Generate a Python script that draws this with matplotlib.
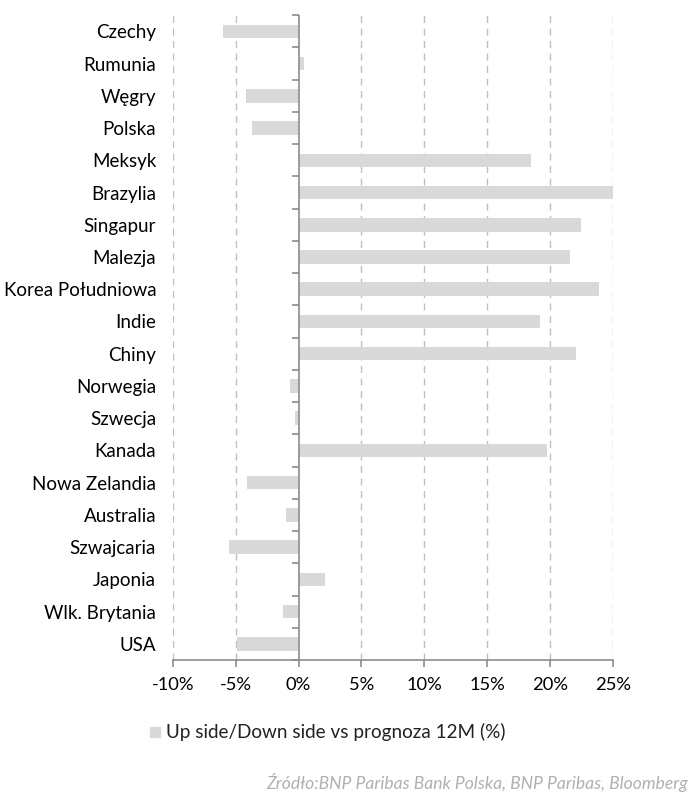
import matplotlib.pyplot as plt
import matplotlib.transforms as mtransforms
import numpy as np

countries = ["Czechy", "Rumunia", "Węgry", "Polska", "Meksyk", "Brazylia",
             "Singapur", "Malezja", "Korea Południowa", "Indie", "Chiny",
             "Norwegia", "Szwecja", "Kanada", "Nowa Zelandia", "Australia",
             "Szwajcaria", "Japonia", "Wlk. Brytania", "USA"]
values = [-6.0, 0.45, -4.2, -3.7, 18.5, 25.1, 22.5, 21.6, 23.9, 19.2, 22.1,
          -0.65, -0.25, 19.8, -4.1, -1.0, -5.5, 2.1, -1.2, -4.9]
xticks = [-10, -5, 0, 5, 10, 15, 20, 25]

plt.rcParams['font.family'] = ['Lato', 'DejaVu Sans']

fig = plt.figure(figsize=(6.94, 8), dpi=100)
ax = fig.add_axes([0.249, 0.175, 0.634, 0.806])

bar_color = '#d9d9d9'
axis_color = '#8c8c8c'
pos = np.arange(len(countries))
ax.barh(pos, values, height=0.42, color=bar_color, zorder=2)

ax.set_xlim(-10, 25)
ax.set_ylim(len(countries) - 0.5, -0.5)

for x in xticks:
    if x != 0:
        ax.axvline(x, color='#bfbfbf', lw=1, ls=(0, (5, 4)), zorder=1)
ax.axvline(0, color=axis_color, lw=1.2, zorder=3)

for s in ['left', 'right', 'top']:
    ax.spines[s].set_visible(False)
ax.spines['bottom'].set_color(axis_color)
ax.spines['bottom'].set_linewidth(1.2)

ax.set_xticks(xticks)
ax.set_xticklabels([f"{x}%" for x in xticks], fontsize=13.2)
ax.tick_params(axis='x', length=5, color=axis_color, width=1.2, pad=7)

ax.set_yticks(pos)
ax.set_yticklabels(countries, fontsize=13.5)
ax.tick_params(axis='y', length=0, pad=12)
ax.set_yticks(np.arange(len(countries) + 1) - 0.5, minor=True)
ax.tick_params(axis='y', which='minor', length=5, color=axis_color, width=1.2)

# minor y ticks sit on the zero line, not on the left edge
shift = mtransforms.ScaledTranslation(10 / 35 * 0.634 * 6.94, 0, fig.dpi_scale_trans)
for t in ax.yaxis.get_minor_ticks():
    t.tick1line.set_transform(ax.get_yaxis_transform(which='tick1') + shift)

# legend and source note
fig.patches.append(plt.Rectangle((150 / 694, 1 - 737 / 800), 10 / 694, 10 / 800,
                                 transform=fig.transFigure, color=bar_color))
fig.text(166 / 694, 1 - 732 / 800, "Up side/Down side vs prognoza 12M (%)",
         fontsize=13.6, va='center', ha='left', color='#222222')
fig.text(688 / 694, 1 - 782 / 800, "Źródło:BNP Paribas Bank Polska, BNP Paribas, Bloomberg",
         fontsize=12.6, style='italic', color='#b0b0b0', ha='right', va='center')

fig.savefig('out.png', dpi=100)
